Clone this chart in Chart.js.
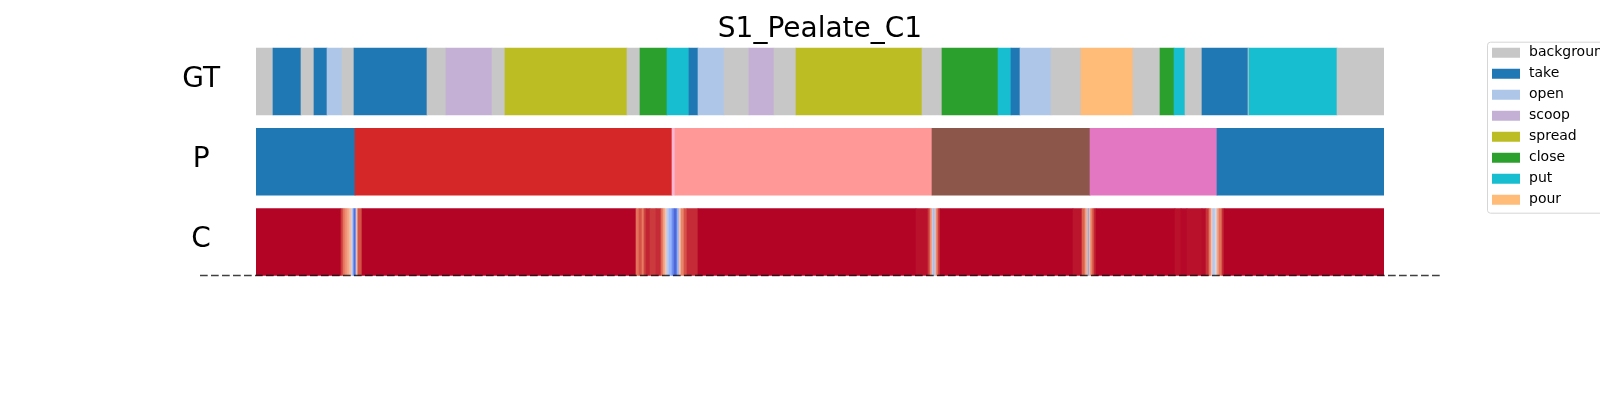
<!DOCTYPE html>
<html>
<head>
<meta charset="utf-8">
<title>S1_Pealate_C1</title>
<script src="https://cdn.jsdelivr.net/npm/chart.js@4.4.1/dist/chart.umd.min.js"></script>
<style>
  html, body { margin: 0; padding: 0; background: #fff; overflow: hidden; }
  #wrap { width: 1605px; height: 400px; }
</style>
</head>
<body>
<div id="wrap"><canvas id="segChart" width="1605" height="400"></canvas></div>
<script>
// ── Data (frame units) ────────────────────────────────────────
const TITLE = 'S1_Pealate_C1';
const ROWS = ['GT', 'P', 'C'];
const N_FRAMES = 1128;

const ACTIONS = ['background', 'take', 'open', 'scoop', 'spread', 'close', 'put', 'pour'];

// ground truth: segment i runs from GT_BOUNDS[i] to GT_BOUNDS[i+1]
const GT_BOUNDS = [0, 17, 45, 58, 71, 86, 98, 171, 190, 236, 249, 371, 384, 411, 433, 442, 468, 493,
  518, 540, 666, 686, 742, 755, 764, 795, 825, 877, 904, 918, 929, 946, 992, 993, 1081, 1128];
const GT_LABELS = ['background', 'take', 'background', 'take', 'open', 'background', 'take', 'background',
  'scoop', 'background', 'spread', 'background', 'close', 'put', 'take', 'open', 'background', 'scoop',
  'background', 'spread', 'background', 'close', 'put', 'take', 'open', 'background', 'pour', 'background',
  'close', 'put', 'background', 'take', 'background', 'put', 'background'];

// prediction
const P_BOUNDS = [0, 99, 416, 419, 676, 834, 961, 1128];
const P_LABELS = ['take', 'c6', 'c13', 'c7', 'c10', 'c12', 'take'];

// confidence per stretch of frames
const C_BOUNDS = [0, 85, 87, 89, 91, 93, 95, 96, 97, 98, 100, 101, 102, 106,
  380, 383, 386, 388, 390, 394, 400, 405, 407, 409, 411, 413, 416, 418, 421, 423, 425, 428, 431, 442,
  660, 672, 674, 676, 677, 679, 680, 682, 684,
  817, 826, 829, 831, 832, 833, 834, 836, 838, 840,
  919, 925, 931, 946, 950, 953, 955, 957, 959, 961, 963, 966, 968, 1128];
const C_VALUES = [1.0, 0.93, 0.84, 0.78, 0.72, 0.64, 0.55, 0.42, 0.28, 0.1, 0.45, 0.72, 0.9,
  1.0, 0.84, 0.9, 0.82, 0.92, 0.96, 0.93, 0.95, 0.86, 0.74, 0.6, 0.4, 0.32, 0.2, 0.08, 0.3, 0.6, 0.8, 0.9, 0.95,
  1.0, 0.985, 0.93, 0.78, 0.58, 0.35, 0.55, 0.8, 0.93,
  1.0, 0.98, 0.88, 0.74, 0.56, 0.22, 0.56, 0.76, 0.88, 0.96,
  1.0, 0.985, 0.995, 0.985, 0.99, 0.94, 0.82, 0.6, 0.38, 0.48, 0.72, 0.84, 0.95, 1.0];

// dashed reference line extent (frames)
const DASH_FROM = -56;
const DASH_TO = 1184;

// ── Styles ────────────────────────────────────────────────────
const FONT = 'DejaVu Sans';
const COLORS = {
  background: '#c7c7c7', take: '#1f77b4', open: '#aec7e8', scoop: '#c5b0d5',
  spread: '#bcbd22', close: '#2ca02c', put: '#17becf', pour: '#ffbb78',
  c6: '#d62728', c7: '#ff9896', c10: '#8c564b', c12: '#e377c2', c13: '#f7b6d2'
};

const COOLWARM = [
  [0.0, [59, 76, 192]], [0.125, [90, 120, 228]], [0.25, [124, 159, 249]], [0.375, [170, 199, 253]],
  [0.5, [221, 220, 220]], [0.625, [246, 190, 164]], [0.75, [244, 154, 123]], [0.875, [221, 101, 79]],
  [1.0, [180, 4, 38]]
];

function coolwarm(v) {
  for (let i = 1; i < COOLWARM.length; i++) {
    const [t1, c1] = COOLWARM[i];
    const [t0, c0] = COOLWARM[i - 1];
    if (v <= t1) {
      const f = (v - t0) / (t1 - t0);
      const c = c0.map((a, k) => Math.round(a + (c1[k] - a) * f));
      return `rgb(${c[0]},${c[1]},${c[2]})`;
    }
  }
  return 'rgb(180,4,38)';
}

// ── Build bars ────────────────────────────────────────────────
const bars = [];
const barColors = [];

function addRow(row, bounds, colorOf) {
  for (let i = 0; i < bounds.length - 1; i++) {
    bars.push({ y: row, x: [bounds[i], bounds[i + 1]] });
    barColors.push(colorOf(i));
  }
}

addRow('GT', GT_BOUNDS, i => COLORS[GT_LABELS[i]]);
addRow('P', P_BOUNDS, i => COLORS[P_LABELS[i]]);
addRow('C', C_BOUNDS, i => coolwarm(C_VALUES[i]));

// ── Plugins ───────────────────────────────────────────────────
const dashLine = {
  id: 'dashLine',
  afterDatasetsDraw(chart) {
    const meta = chart.getDatasetMeta(0);
    const cBar = meta.data[bars.findIndex(b => b.y === 'C')];
    if (!cBar) return;
    const y = cBar.y + cBar.height / 2;
    const xs = chart.scales.x;
    const ctx = chart.ctx;
    ctx.save();
    ctx.strokeStyle = 'rgba(0,0,0,0.75)';
    ctx.lineWidth = 1.5;
    ctx.setLineDash([7.7, 3.3]);
    ctx.beginPath();
    ctx.moveTo(xs.getPixelForValue(DASH_FROM), y);
    ctx.lineTo(xs.getPixelForValue(DASH_TO), y);
    ctx.stroke();
    ctx.restore();
  }
};

const legendFrame = {
  id: 'legendFrame',
  afterDraw(chart) {
    const hb = chart.legend && chart.legend.legendHitBoxes;
    if (!hb || !hb.length) return;
    const first = hb[0];
    const last = hb[hb.length - 1];
    const x = first.left - 3;
    const y = first.top - 4;
    const h = last.top + last.height + 6 - y;
    const ctx = chart.ctx;
    ctx.save();
    ctx.strokeStyle = '#d6d6d6';
    ctx.lineWidth = 1;
    ctx.beginPath();
    ctx.roundRect(x + 0.5, y + 0.5, chart.width - x + 10, h, 3);
    ctx.stroke();
    ctx.restore();
  }
};

// ── Chart ─────────────────────────────────────────────────────
Chart.defaults.font.family = FONT;
Chart.defaults.color = '#000';

new Chart(document.getElementById('segChart'), {
  type: 'bar',
  data: {
    labels: ROWS,
    datasets: [{
      data: bars,
      backgroundColor: barColors,
      borderWidth: 0,
      barThickness: 67,
      xAxisID: 'x',
      yAxisID: 'y'
    }]
  },
  options: {
    indexAxis: 'y',
    responsive: false,
    animation: false,
    events: [],
    layout: { padding: { left: 0, top: 0, right: 0, bottom: 117.85 } },
    scales: {
      x: {
        type: 'linear',
        position: 'top',
        min: 0,
        max: N_FRAMES,
        grid: { display: false, drawTicks: false },
        border: { display: false },
        ticks: { display: false },
        title: {
          display: true,
          text: TITLE,
          color: '#000',
          font: { family: FONT, size: 28, lineHeight: 1.2 },
          padding: { top: 13, bottom: 0 }
        },
        afterFit: s => { s.height = 41.4; s.paddingLeft = 0; s.paddingRight = 0; }
      },
      y: {
        type: 'category',
        position: 'left',
        grid: { display: false, drawTicks: false, tickLength: 0 },
        border: { display: false },
        ticks: {
          color: '#000',
          font: { family: FONT, size: 28 },
          crossAlign: 'center',
          padding: 36,
          labelOffset: -2
        },
        afterFit: s => { s.width = 256; s.paddingTop = 0; s.paddingBottom = 0; }
      },
      yPad: {
        type: 'linear',
        position: 'right',
        grid: { display: false, drawTicks: false },
        border: { display: false },
        ticks: { display: false },
        afterFit: s => { s.width = 99; s.paddingTop = 0; s.paddingBottom = 0; }
      }
    },
    plugins: {
      tooltip: { enabled: false },
      legend: {
        position: 'right',
        align: 'start',
        fullSize: true,
        maxWidth: 122,
        onClick: null,
        title: { display: true, text: '', font: { size: 1, lineHeight: 1 }, padding: { top: 37.7, bottom: 0 } },
        labels: {
          // white 2px inset stroke leaves a 28x10 patch
          boxWidth: 32,
          boxHeight: 14,
          padding: 7,
          color: '#000',
          font: { family: FONT, size: 14 },
          generateLabels: () => ACTIONS.map(a => ({
            text: a,
            fillStyle: COLORS[a],
            strokeStyle: '#fff',
            lineWidth: 4,
            hidden: false,
            fontColor: '#000'
          }))
        }
      }
    }
  },
  plugins: [dashLine, legendFrame]
});
</script>
</body>
</html>
